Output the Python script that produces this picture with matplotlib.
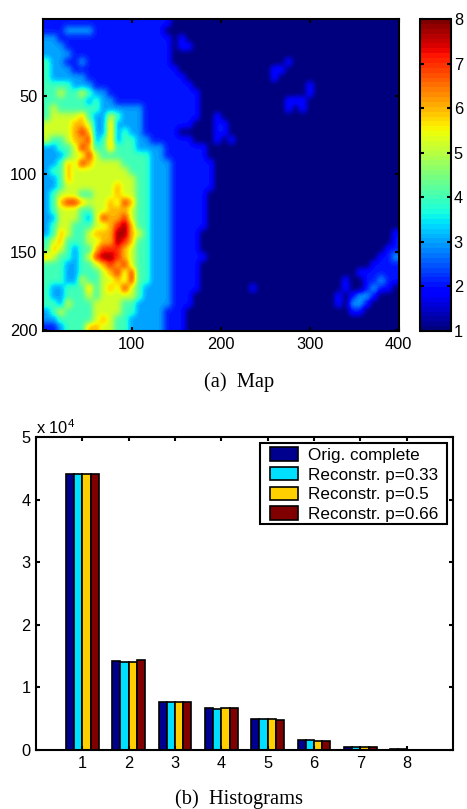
import numpy as np
import matplotlib
matplotlib.use('Agg')
import matplotlib.pyplot as plt
from matplotlib.cm import ScalarMappable
from matplotlib.colors import Normalize
from matplotlib.patches import Rectangle

plt.rcParams['font.family'] = ['Liberation Sans', 'DejaVu Sans']
plt.rcParams['mathtext.default'] = 'regular'

W, H = 467, 809

# map, one string per 5 rows, one digit per 8 columns
map_rows = [
    "22222 22222 22222 22211 11111 11111 11111 11111 11111 11111",
    "22233 33222 22222 22111 11111 11111 11111 11111 11111 11111",
    "33222 22222 22222 22212 11111 11111 11111 11111 11111 11111",
    "33322 22222 22222 22212 21111 11111 11111 11111 11111 11111",
    "33332 22222 22222 22211 11111 11111 11111 11111 11111 11111",
    "43322 32222 22222 22211 11111 11111 11112 11111 11111 11111",
    "43332 22222 22222 22221 11111 11111 11221 11111 11111 11111",
    "43333 32222 22222 22222 11111 11111 11211 11111 11111 11111",
    "44443 33222 22222 22222 21111 11111 11111 11211 11111 11111",
    "44544 54332 22222 22222 22111 11111 11111 11211 11111 11111",
    "44444 43433 22222 22222 22111 11111 11112 22111 11111 11111",
    "45444 44433 33332 22222 22111 11111 11112 12111 11111 11111",
    "45555 64335 43332 22222 22112 11111 11111 11111 11111 11111",
    "55556 65336 33332 22222 21112 21111 11111 11111 11111 11111",
    "55556 76336 34332 22221 11112 21111 11111 11111 11111 11111",
    "54456 67346 34433 22222 21112 12111 11111 11111 11111 11111",
    "33445 76446 44433 33222 22211 11111 11111 11111 11111 11111",
    "33345 57544 44444 33222 22211 11111 11111 11111 11111 11111",
    "33465 76555 54444 33322 22221 11111 11111 11111 11111 11111",
    "34465 55555 55444 33322 22221 11111 11111 11111 11111 11111",
    "33465 55555 55544 33322 22221 11111 11111 11111 11111 11111",
    "33455 55555 65544 33322 22221 11111 11111 11111 11111 11111",
    "34555 44555 65544 33322 22211 11111 11111 11111 11111 11111",
    "34677 65556 57644 33322 22211 11111 11111 11111 11111 11111",
    "34555 44556 66544 33322 22211 11111 11111 11111 11111 11111",
    "33555 43576 67544 33322 22211 11111 11111 11111 11111 11111",
    "34554 44556 78644 33322 22211 11111 11111 11111 11111 11111",
    "34654 45666 88654 33322 22111 11111 11111 11111 11111 11112",
    "45644 45566 87644 33322 22111 11111 11111 11111 11111 11112",
    "46543 44677 76544 33322 22111 11111 11111 11111 11111 11122",
    "65443 45788 76544 33322 22211 11111 11111 11111 11111 11223",
    "44433 44567 67544 33322 22111 11111 11111 11111 11111 12222",
    "44433 44456 75744 33322 22111 11111 11111 11111 11112 22222",
    "44433 54455 65744 33322 22111 11111 11111 11111 11211 22322",
    "43344 46456 57543 33322 22111 11112 11111 11111 11211 23221",
    "43344 45455 55543 33322 21111 11111 11111 11111 12123 32111",
    "44354 44555 54433 33322 21111 11111 11111 11111 12133 21111",
    "34544 44555 54433 33222 11111 11111 11111 11111 11122 11111",
    "33444 44565 44333 33222 11111 11111 11111 11111 11111 11111",
    "22344 46655 44333 33222 11111 11111 11111 11111 11111 11111",
]
# value of each digit in map_rows
level_values = [1.0, 2.05, 3.0, 4.0, 5.2, 6.0, 7.0, 7.8]
map_xticks = [100, 200, 300, 400]
map_yticks = [50, 100, 150, 200]
cbar_ticks = [1, 2, 3, 4, 5, 6, 7, 8]

categories = [1, 2, 3, 4, 5, 6, 7, 8]
orig_complete = [44100, 14150, 7700, 6700, 4900, 1600, 550, 100]
reconstr_033 = [44100, 14100, 7600, 6600, 4900, 1550, 500, 80]
reconstr_05 = [44100, 14100, 7600, 6700, 4900, 1500, 500, 60]
reconstr_066 = [44100, 14400, 7700, 6700, 4800, 1450, 450, 60]
hist_yticks = [0, 10000, 20000, 30000, 40000, 50000]
hist_ylabels = ['0', '1', '2', '3', '4', '5']
series_names = ['Orig. complete', 'Reconstr. p=0.33', 'Reconstr. p=0.5', 'Reconstr. p=0.66']
series_colors = ['#00008f', '#00dfff', '#ffcf00', '#800000']

LW = 1.5
FS = 11.8
CAPTION_FS = 14.7


def box(x0, y0, x1, y1):
    # pixel box of the reference -> figure fractions
    return [x0 / W, 1 - y1 / H, (x1 - x0) / W, (y1 - y0) / H]


def style_axes(ax):
    for s in ax.spines.values():
        s.set_linewidth(LW)
    ax.tick_params(direction='in', top=True, right=True, length=3, width=LW,
                   labelsize=FS, pad=4)


fig = plt.figure(figsize=(W / 100, H / 100), dpi=100)

# (a) map
grid = np.array([[level_values[int(c) - 1] for c in r.replace(' ', '')] for r in map_rows])
ax = fig.add_axes(box(43, 19, 399, 331))
cmap = plt.get_cmap('jet', 64)
ax.imshow(grid, cmap=cmap, vmin=1, vmax=8, aspect='auto', interpolation='gaussian',
          extent=[0.5, 400.5, 200.5, 0.5])
ax.set_xticks(map_xticks)
ax.set_yticks(map_yticks)
style_axes(ax)

cax = fig.add_axes(box(420, 19, 451, 331))
cb = fig.colorbar(ScalarMappable(Normalize(1, 8), cmap), cax=cax)
cb.set_ticks(cbar_ticks)
cb.outline.set_linewidth(LW)
cax.tick_params(direction='in', left=True, right=True, length=3, width=LW,
                labelsize=FS, pad=2)

fig.text(239 / W, 1 - 382 / H, '(a)  Map', family=['Liberation Serif'], fontsize=CAPTION_FS,
         ha='center', va='center')

# (b) histograms
ax2 = fig.add_axes(box(36, 437, 453, 750))
all_series = [orig_complete, reconstr_033, reconstr_05, reconstr_066]
bar_w = 0.178
x = np.array(categories, dtype=float)
for i, vals in enumerate(all_series):
    ax2.bar(x + (i - 1.5) * bar_w, vals, bar_w, color=series_colors[i], edgecolor='k',
            linewidth=1.2, label=series_names[i])
ax2.set_xlim(0, 9)
ax2.set_ylim(0, 50000)
ax2.set_xticks(categories)
ax2.set_yticks(hist_yticks)
ax2.set_yticklabels(hist_ylabels)
style_axes(ax2)
ax2.text(36 / W, 1 - 428 / H, r'x 10$^{4}$', transform=fig.transFigure, fontsize=FS,
         ha='left', va='center')

# legend frame drawn apart, its padding is wider than it is tall
ax2.add_patch(Rectangle((260 / W, 1 - 524 / H), 187 / W, 81 / H, transform=fig.transFigure,
                        facecolor='w', edgecolor='k', linewidth=LW, clip_on=False, zorder=4))
leg = ax2.legend(loc='upper left', bbox_to_anchor=(270 / W, 1 - 447 / H),
                 bbox_transform=fig.transFigure, frameon=False, fontsize=12.3,
                 handlelength=1.64, handleheight=0.85, labelspacing=0.24,
                 handletextpad=0.6, borderpad=0, borderaxespad=0)

fig.text(239 / W, 1 - 799 / H, '(b)  Histograms', family=['Liberation Serif'],
         fontsize=CAPTION_FS, ha='center', va='center')

fig.savefig('out.png', dpi=100)
